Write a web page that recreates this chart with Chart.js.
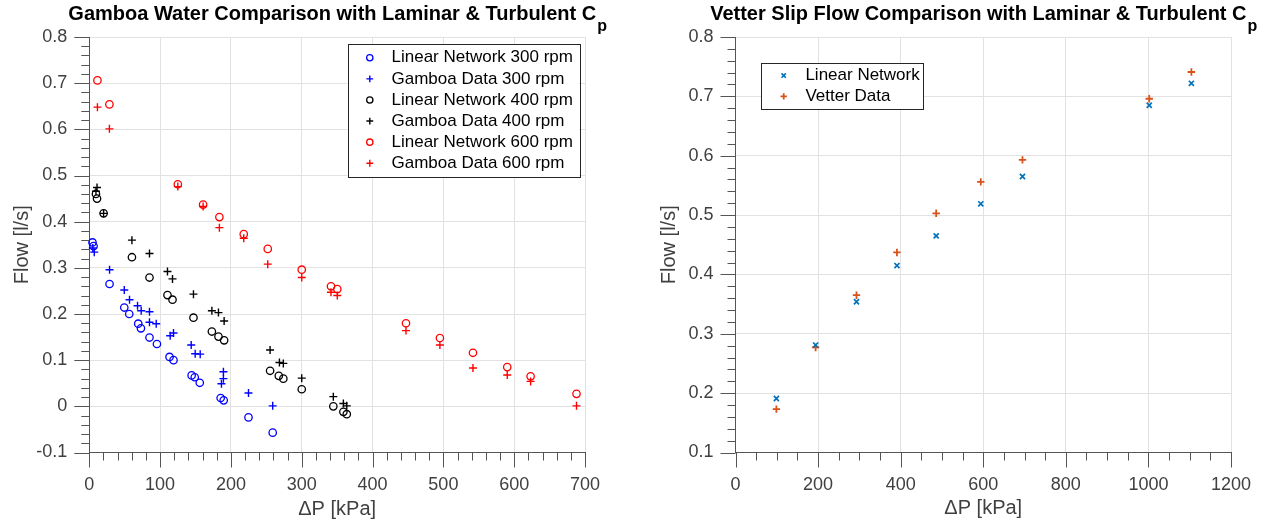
<!DOCTYPE html>
<html>
<head>
<meta charset="utf-8">
<script src="https://cdn.jsdelivr.net/npm/chart.js@4.4.0/dist/chart.umd.min.js"></script>
<style>
    html, body { margin: 0; padding: 0; background: #fff; }
    #wrap { position: relative; width: 1274px; height: 525px; }
    canvas { position: absolute; top: 0; }
</style>
</head>
<body>
<div id="wrap">
    <canvas id="gamboaChart" width="637" height="525" style="left:0"></canvas>
    <canvas id="vetterChart" width="637" height="525" style="left:637px"></canvas>
</div>
<script>
// Gamboa water, 300 rpm
const lin300X = [4.5, 6.0, 28.6, 49.4, 56.4, 69.1, 72.9, 85.0, 95.5, 113.3, 118.9, 144.5, 148.9, 156.0, 185.5, 189.8, 224.8, 259.0];
const lin300Y = [0.355, 0.347, 0.265, 0.214, 0.200, 0.179, 0.169, 0.149, 0.135, 0.107, 0.100, 0.067, 0.063, 0.051, 0.018, 0.013, -0.024, -0.057];
const gam300X = [5.0, 7.0, 28.6, 49.4, 56.8, 68.1, 73.3, 85.0, 85.0, 94.5, 114.2, 118.9, 143.9, 149.5, 156.6, 189.4, 189.4, 186.6, 224.8, 259.0];
const gam300Y = [0.343, 0.334, 0.296, 0.252, 0.231, 0.218, 0.207, 0.205, 0.182, 0.179, 0.153, 0.159, 0.133, 0.114, 0.113, 0.075, 0.060, 0.049, 0.029, 0.001];

// Gamboa water, 400 rpm
const lin400X = [9.4, 10.9, 20.2, 60.2, 85.0, 110.4, 117.5, 147.1, 173.1, 182.4, 190.4, 255.3, 267.6, 274.0, 300.0, 344.6, 358.8, 363.6];
const lin400Y = [0.460, 0.450, 0.418, 0.323, 0.279, 0.241, 0.231, 0.192, 0.162, 0.151, 0.143, 0.077, 0.066, 0.060, 0.037, 0.000, -0.012, -0.017];
const gam400X = [9.4, 10.9, 20.2, 60.2, 85.0, 110.4, 117.5, 147.1, 173.1, 182.4, 190.4, 255.3, 268.5, 274.0, 300.0, 344.6, 358.8, 363.6];
const gam400Y = [0.466, 0.474, 0.418, 0.360, 0.331, 0.292, 0.276, 0.243, 0.207, 0.203, 0.185, 0.122, 0.095, 0.093, 0.061, 0.021, 0.006, 0.001];

// Gamboa water, 600 rpm
const lin600X = [11.5, 28.4, 125.0, 160.7, 183.7, 218.1, 252.0, 300.0, 341.3, 350.2, 447.2, 495.1, 541.8, 590.2, 623.2, 688.0];
const lin600Y = [0.706, 0.654, 0.481, 0.437, 0.410, 0.373, 0.341, 0.296, 0.260, 0.254, 0.180, 0.148, 0.116, 0.085, 0.065, 0.027];
const gam600X = lin600X;
const gam600Y = [0.648, 0.601, 0.476, 0.433, 0.387, 0.364, 0.308, 0.279, 0.247, 0.240, 0.164, 0.133, 0.083, 0.068, 0.054, 0.001];

// Vetter slip flow
const vetterX = [99, 194, 293, 391, 486, 594, 695, 1002, 1104];
const vetterLinear = [0.191, 0.281, 0.354, 0.415, 0.465, 0.519, 0.565, 0.685, 0.722];
const vetterData = [0.173, 0.277, 0.365, 0.437, 0.503, 0.556, 0.593, 0.696, 0.741];

const FONT = "'Liberation Sans', Arial, Helvetica, sans-serif";
const TXT = '#404040';
const AXIS = '#555555';
const GRID = '#e2e2e2';

function pts(xs, ys) {
    return xs.map((x, i) => ({ x: x, y: ys[i] }));
}

function series(label, xs, ys, color, style, radius, width) {
    return {
        label: label,
        data: pts(xs, ys),
        pointStyle: style,
        pointRadius: radius,
        pointHoverRadius: radius,
        pointBorderWidth: width,
        borderWidth: width,
        borderColor: color,
        pointBorderColor: color,
        backgroundColor: 'rgba(0,0,0,0)',
        pointBackgroundColor: 'rgba(0,0,0,0)',
        showLine: false,
        clip: false
    };
}

// title with a subscript, centred over the plot area
const titleWithSub = {
    id: 'titleWithSub',
    afterDraw(chart, args, opts) {
        const ctx = chart.ctx;
        const area = chart.chartArea;
        ctx.save();
        ctx.fillStyle = '#000';
        ctx.textAlign = 'left';
        ctx.textBaseline = 'alphabetic';
        ctx.font = 'bold 20px ' + FONT;
        const w1 = ctx.measureText(opts.text).width;
        ctx.font = 'bold 16px ' + FONT;
        const w2 = ctx.measureText(opts.sub).width;
        const x0 = (area.left + area.right) / 2 - (w1 + w2) / 2;
        ctx.font = 'bold 20px ' + FONT;
        ctx.fillText(opts.text, x0, 20);
        ctx.font = 'bold 16px ' + FONT;
        ctx.fillText(opts.sub, x0 + w1 + 1, 31);
        ctx.restore();
    }
};

// outward tick marks (long major, short minor), placed with the chart's own scales
const axisTicks = {
    id: 'axisTicks',
    afterDraw(chart, args, opts) {
        const { ctx, chartArea: a, scales: { x, y } } = chart;
        ctx.save();
        ctx.strokeStyle = AXIS;
        ctx.lineWidth = 1;
        ctx.beginPath();
        const nx = Math.round((x.max - x.min) / opts.xStep);
        const xEvery = Math.round(opts.xMajor / opts.xStep);
        for (let i = 0; i <= nx; i++) {
            const px = Math.round(x.getPixelForValue(x.min + i * opts.xStep)) + 0.5;
            const len = i % xEvery === 0 ? opts.majorLen : opts.len;
            ctx.moveTo(px, a.bottom);
            ctx.lineTo(px, a.bottom + len);
        }
        const ny = Math.round((y.max - y.min) / opts.yStep);
        const yEvery = Math.round(opts.yMajor / opts.yStep);
        for (let i = 0; i <= ny; i++) {
            const py = Math.round(y.getPixelForValue(y.min + i * opts.yStep)) + 0.5;
            const len = i % yEvery === 0 ? opts.majorLen : opts.len;
            ctx.moveTo(a.left, py);
            ctx.lineTo(a.left - len, py);
        }
        ctx.stroke();
        ctx.restore();
    }
};

// boxed legend inside the axes
const boxLegend = {
    id: 'boxLegend',
    afterDraw(chart, args, opts) {
        const ctx = chart.ctx;
        const sets = chart.data.datasets;
        const h = opts.height;
        const pad = (h - opts.row * sets.length) / 2;
        ctx.save();
        ctx.fillStyle = '#fff';
        ctx.fillRect(opts.left, opts.top, opts.width, h);
        ctx.strokeStyle = '#262626';
        ctx.lineWidth = 1;
        ctx.strokeRect(Math.round(opts.left) + 0.5, Math.round(opts.top) + 0.5, Math.round(opts.width), Math.round(h));
        ctx.font = '17px ' + FONT;
        ctx.textBaseline = 'middle';
        ctx.textAlign = 'left';
        sets.forEach((ds, i) => {
            const cy = opts.top + pad + opts.row * (i + 0.5);
            ctx.strokeStyle = ds.borderColor;
            ctx.fillStyle = 'rgba(0,0,0,0)';
            ctx.lineWidth = ds.borderWidth;
            Chart.helpers.drawPoint(ctx, {
                pointStyle: ds.pointStyle,
                radius: ds.pointRadius * 0.85,
                borderWidth: ds.borderWidth,
                rotation: 0
            }, opts.left + opts.markerX, cy);
            ctx.fillStyle = '#000';
            ctx.fillText(ds.label, opts.left + opts.textX, cy);
        });
        ctx.restore();
    }
};

function axis(min, max, step, width, height, titleText, titlePad, isX) {
    const s = {
        type: 'linear',
        min: min,
        max: max,
        ticks: {
            stepSize: step,
            autoSkip: false,
            maxRotation: 0,
            padding: 7,
            color: TXT,
            font: { family: FONT, size: 18 },
            callback: v => String(Math.round(v * 1000) / 1000)
        },
        grid: { color: GRID, tickColor: 'rgba(0,0,0,0)', tickLength: 15, drawTicks: true, lineWidth: 1 },
        border: { color: AXIS, width: 1 },
        title: {
            display: true,
            text: titleText,
            color: TXT,
            font: { family: FONT, size: 20 },
            padding: titlePad
        }
    };
    if (isX) {
        s.position = 'bottom';
        s.afterFit = scale => { scale.height = height; };
    } else {
        s.position = 'left';
        s.afterFit = scale => { scale.width = width; };
    }
    return s;
}

Chart.defaults.font.family = FONT;

new Chart(document.getElementById('gamboaChart'), {
    type: 'scatter',
    data: {
        datasets: [
            series('Linear Network 300 rpm', lin300X, lin300Y, '#0000ff', 'circle', 3.7, 1.3),
            series('Gamboa Data 300 rpm', gam300X, gam300Y, '#0000ff', 'cross', 4, 1.4),
            series('Linear Network 400 rpm', lin400X, lin400Y, '#000000', 'circle', 3.7, 1.3),
            series('Gamboa Data 400 rpm', gam400X, gam400Y, '#000000', 'cross', 4, 1.4),
            series('Linear Network 600 rpm', lin600X, lin600Y, '#ff0000', 'circle', 3.7, 1.3),
            series('Gamboa Data 600 rpm', gam600X, gam600Y, '#ff0000', 'cross', 4, 1.4)
        ]
    },
    options: {
        responsive: false,
        animation: false,
        devicePixelRatio: 1,
        layout: { padding: { left: 0, right: 52, top: 37, bottom: 0 } },
        scales: {
            x: axis(0, 700, 100, 0, 72.5, '\u0394P [kPa]', { top: 0, bottom: 4 }, true),
            y: axis(-0.1, 0.8, 0.1, 89.3, 0, 'Flow [l/s]', { top: 10, bottom: 0 }, false)
        },
        plugins: {
            legend: { display: false },
            tooltip: { enabled: false },
            titleWithSub: { text: 'Gamboa Water Comparison with Laminar & Turbulent C', sub: 'p' },
            axisTicks: { xStep: 20, xMajor: 100, yStep: 0.02, yMajor: 0.1, len: 8, majorLen: 15 },
            boxLegend: { left: 347.5, top: 44, width: 231.5, height: 133, row: 21.1, markerX: 22.3, textX: 44 }
        }
    },
    plugins: [axisTicks, boxLegend, titleWithSub]
});

new Chart(document.getElementById('vetterChart'), {
    type: 'scatter',
    data: {
        datasets: [
            series('Linear Network', vetterX, vetterLinear, '#0072BD', 'crossRot', 3.6, 1.7),
            series('Vetter Data', vetterX, vetterData, '#D95319', 'cross', 3.7, 1.8)
        ]
    },
    options: {
        responsive: false,
        animation: false,
        devicePixelRatio: 1,
        layout: { padding: { left: 0, right: 43, top: 37, bottom: 0 } },
        scales: {
            x: axis(0, 1200, 200, 0, 72.5, '\u0394P [kPa]', { top: 0, bottom: 5 }, true),
            y: axis(0.1, 0.8, 0.1, 98.5, 0, 'Flow [l/s]', { top: 20, bottom: 0 }, false)
        },
        plugins: {
            legend: { display: false },
            tooltip: { enabled: false },
            titleWithSub: { text: 'Vetter Slip Flow Comparison with Laminar & Turbulent C', sub: 'p' },
            axisTicks: { xStep: 50, xMajor: 200, yStep: 0.02, yMajor: 0.1, len: 8, majorLen: 15 },
            boxLegend: { left: 124, top: 63, width: 162, height: 46, row: 20.8, markerX: 22.7, textX: 44.4 }
        }
    },
    plugins: [axisTicks, boxLegend, titleWithSub]
});
</script>
</body>
</html>
